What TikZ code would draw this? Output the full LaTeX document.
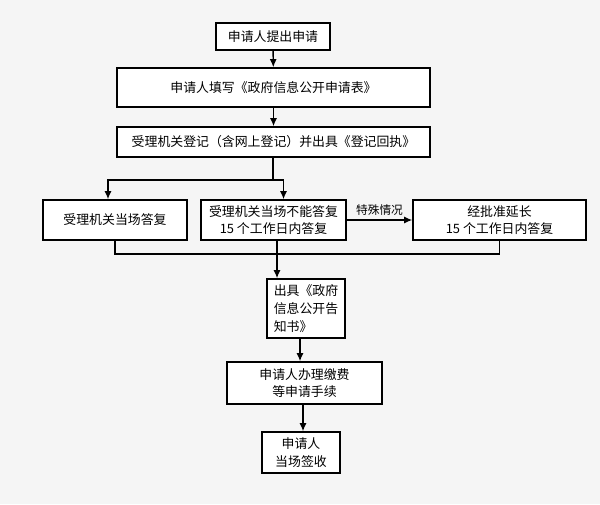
\documentclass[tikz,border=0pt]{standalone}
\usepackage{fontspec}
\setmainfont{Noto Sans CJK SC}
\usetikzlibrary{positioning,arrows.meta}
\tikzstyle{stepbox}=[rectangle, draw=black, line width=1.2pt, fill=white, inner sep=0pt, anchor=center, align=center, font=\fontsize{11}{15}\selectfont]
\tikzstyle{flow}=[line width=1.2pt, -{Latex[length=7pt,width=6pt]}]
\begin{document}
\begin{tikzpicture}[x=0.03cm, y=-0.03cm]
	\fill[black!4] (0,0) rectangle (600,504);
	\useasboundingbox (0,0) rectangle (600,504);

	\node[stepbox, minimum width=3.42cm, minimum height=0.81cm](apply) at (273,36.5){申请人提出申请};
	\node[stepbox, minimum width=9.39cm, minimum height=1.17cm](form) at (273.5,87.5){申请人填写《政府信息公开申请表》};
	\node[stepbox, minimum width=9.39cm, minimum height=0.9cm](register) at (273.5,142){受理机关登记（含网上登记）并出具《登记回执》};
	\node[stepbox, minimum width=4.32cm, minimum height=1.2cm](onsite) at (115,220){受理机关当场答复};
	\node[stepbox, minimum width=4.35cm, minimum height=1.2cm](later) at (273.5,220){受理机关当场不能答复\\15 个工作日内答复};
	\node[stepbox, minimum width=5.19cm, minimum height=1.2cm](extend) at (499.5,220){经批准延长\\15 个工作日内答复};
	\node[stepbox, minimum width=2.34cm, minimum height=1.77cm, align=left](notice) at (306,308.5){出具《政府\\信息公开告\\知书》};
	\node[stepbox, minimum width=4.65cm, minimum height=1.26cm](fee) at (304.5,383){申请人办理缴费\\等申请手续};
	\node[stepbox, minimum width=2.34cm, minimum height=1.23cm](sign) at (301,452.5){申请人\\当场签收};

	\coordinate (split) at (273,180);
	\coordinate (join) at (277,254);

	\draw[flow] (apply) -- (form);
	\draw[flow] (form) -- (register);
	\draw[line width=1.2pt] (register.south -| split) -- (split);
	\draw[flow] (split) -| ([xshift=-0.21cm]onsite.north);
	\draw[flow] (split) -| ([xshift=0.3cm]later.north);
	\draw[flow] (later) -- node[above, font=\fontsize{10}{12}\selectfont]{特殊情况} (extend);
	\draw[line width=1.2pt] (onsite.south) |- (join) -| (extend.south);
	\draw[flow] (later.south -| join) -- (notice.north -| join);
	\draw[flow] (notice.south -| 300,0) -- (fee.north -| 300,0);
	\draw[flow] (fee.south -| 303,0) -- (sign.north -| 303,0);
\end{tikzpicture}
\end{document}
